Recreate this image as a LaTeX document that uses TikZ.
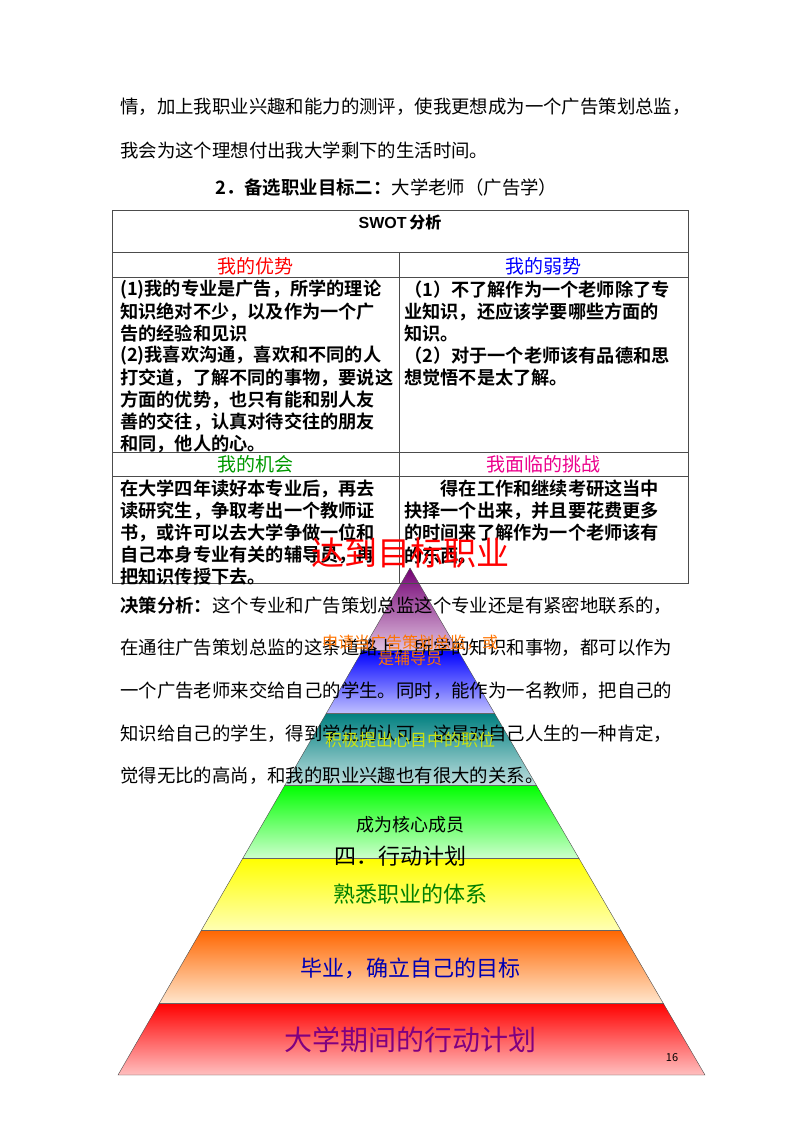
\documentclass[tikz,border=0pt]{standalone}
\usepackage{fontspec}
\setmainfont{Noto Sans CJK SC}
\newfontfamily\cjkb{Noto Sans CJK SC Bold}
\newfontfamily\lsans{Liberation Sans}
\begin{document}
\begin{tikzpicture}[x=1pt,y=-1pt,
  body/.style={anchor=west,inner sep=0pt,font=\fontsize{18.4}{18.4}\selectfont},
  cell/.style={anchor=west,inner sep=0pt,font=\cjkb\fontsize{18.2}{18.2}\selectfont},
  hdr/.style={inner sep=0pt,font=\fontsize{19}{19}\selectfont},
  pl/.style={inner sep=0pt}]
\useasboundingbox (0,0) rectangle (800,1132);
% pyramid
\coordinate (apex) at (410,568);
\coordinate (bl) at (118,1075);
\coordinate (br) at (705,1075);
\begin{scope}
\clip (apex) -- (bl) -- (br) -- cycle;
\shade[top color=violet!90!black,bottom color=violet!25] (100,568) rectangle (720,650);
\shade[top color=blue,bottom color=blue!25] (100,650) rectangle (720,713);
\shade[top color=teal,bottom color=teal!25] (100,713) rectangle (720,785);
\shade[top color=green,bottom color=green!20] (100,785) rectangle (720,858);
\shade[top color=yellow,bottom color=yellow!30] (100,858) rectangle (720,930);
\shade[top color=orange!80!red,bottom color=orange!20] (100,930) rectangle (720,1003);
\shade[top color=red,bottom color=red!25] (100,1003) rectangle (720,1075);
\foreach \y in {650,713,785,858,930,1003} \draw[black!60] (100,\y) -- (720,\y);
\end{scope}
\draw[black!70] (apex) -- (bl) -- (br) -- cycle;
% table
\draw[black!70,line width=1pt] (112,210) rectangle (688,583);
\foreach \y in {252,277,452,476} \draw[black!70,line width=1pt] (112,\y) -- (688,\y);
\draw[black!70,line width=1pt] (399,252) -- (399,583);
\node[pl,font=\lsans\bfseries\fontsize{16}{16}\selectfont] (swot) at (400,222) {SWOT\,{\cjkb 分析}};
\node[hdr,text=red] (s) at (255,266) {我的优势};
\node[hdr,text=blue] (w) at (543,266) {我的弱势};
\node[hdr,text=green!60!black] (o) at (255,464) {我的机会};
\node[hdr,text=magenta] (t) at (543,464) {我面临的挑战};
\foreach \t [count=\i from 0] in {(1)我的专业是广告，所学的理论,知识绝对不少，以及作为一个广,告的经验和见识,(2)我喜欢沟通，喜欢和不同的人,打交道，了解不同的事物，要说这,方面的优势，也只有能和别人友,善的交往，认真对待交往的朋友,和同，他人的心。}
  \node[cell] (l\i) at (120,290+22*\i) {\t};
\foreach \t [count=\i from 0] in {（1）不了解作为一个老师除了专,业知识，还应该学要哪些方面的,知识。,（2）对于一个老师该有品德和思,想觉悟不是太了解。}
  \node[cell] (r\i) at (404,290+22*\i) {\t};
\foreach \t [count=\i from 0] in {在大学四年读好本专业后，再去,读研究生，争取考出一个教师证,书，或许可以去大学争做一位和,自己本身专业有关的辅导员，再,把知识传授下去。}
  \node[cell] (b\i) at (120,489+22*\i) {\t};
\foreach \t [count=\i from 0] in {\hspace{2em}得在工作和继续考研这当中,抉择一个出来，并且要花费更多,的时间来了解作为一个老师该有,的东西。}
  \node[cell] (c\i) at (404,489+22*\i) {\t};
% body text
\node[body] (p1) at (120,107) {情，加上我职业兴趣和能力的测评，使我更想成为一个广告策划总监，};
\node[body] (p2) at (120,150) {我会为这个理想付出我大学剩下的生活时间。};
\node[body] (h2) at (215,188) {{\cjkb 2．备选职业目标二：}大学老师（广告学）};
\node[body] (q1) at (120,606) {{\cjkb 决策分析：}这个专业和广告策划总监这个专业还是有紧密地联系的，};
\node[body] (q2) at (120,648) {在通往广告策划总监的这条道路上，所学的知识和事物，都可以作为};
\node[body] (q3) at (120,691) {一个广告老师来交给自己的学生。同时，能作为一名教师，把自己的};
\node[body] (q4) at (120,734) {知识给自己的学生，得到学生的认可，这是对自己人生的一种肯定，};
\node[body] (q5) at (120,776) {觉得无比的高尚，和我的职业兴趣也有很大的关系。};
% pyramid labels
\node[pl,text=red,font=\fontsize{33}{33}\selectfont] (k1) at (410,553) {达到目标职业};
\node[pl,text=orange!90!red,font=\fontsize{16}{16}\selectfont,align=center] (k2) at (410,650) {申请当广告策划总监，或\\是辅导员};
\node[pl,text=yellow!80!green,font=\fontsize{17}{17}\selectfont] (k3) at (410,740) {积极提出心目中的职位};
\node[pl,font=\fontsize{18}{18}\selectfont] (k4) at (410,825) {成为核心成员};
\node[pl,font=\fontsize{22}{22}\selectfont] (k5) at (400,856) {四．行动计划};
\node[pl,text=green!50!black,font=\fontsize{22}{22}\selectfont] (k6) at (410,894) {熟悉职业的体系};
\node[pl,text=blue!70!black,font=\fontsize{22}{22}\selectfont] (k7) at (410,968) {毕业，确立自己的目标};
\node[pl,text=violet,font=\fontsize{28}{28}\selectfont] (k8) at (410,1040) {大学期间的行动计划};
\node[pl,font=\fontsize{11}{11}\selectfont] (pg) at (672,1058) {16};
\end{tikzpicture}
\end{document}
